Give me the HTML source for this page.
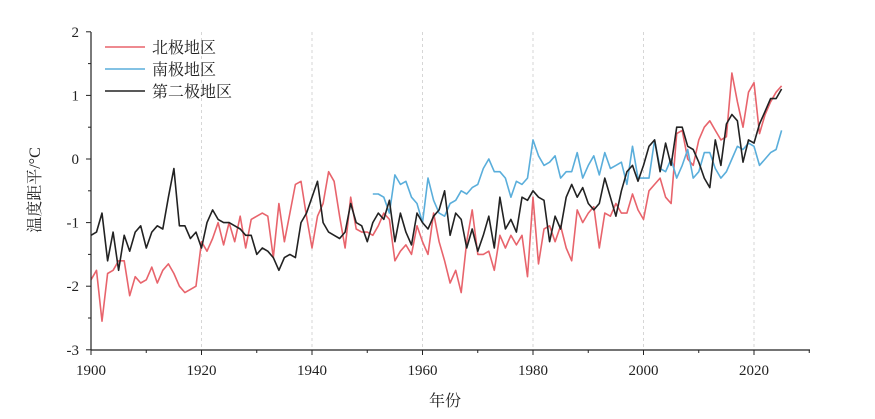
<!DOCTYPE html>
<html><head><meta charset="utf-8"><style>
body{margin:0;background:#fff}
svg text{font-family:"Liberation Serif","Noto Serif CJK SC","Noto Sans CJK SC",serif;fill:#222}
</style></head><body>
<svg id="s" width="875" height="414" xmlns="http://www.w3.org/2000/svg"></svg>
<script>
const X=y=>91+(y-1900)*5.525, Y=v=>159-v*63.6;
const red=[-1.9,-1.75,-2.55,-1.8,-1.75,-1.6,-1.6,-2.15,-1.85,-1.95,-1.9,-1.7,-1.95,-1.75,-1.65,-1.8,-2.0,-2.1,-2.05,-2.0,
-1.3,-1.45,-1.25,-1.0,-1.35,-1.0,-1.3,-0.9,-1.4,-0.95,-0.9,-0.85,-0.9,-1.55,-0.7,-1.3,-0.85,-0.4,-0.35,-0.9,
-1.4,-0.9,-0.7,-0.2,-0.35,-0.9,-1.4,-0.6,-1.1,-1.15,-1.15,-1.2,-1.05,-0.85,-0.95,-1.6,-1.45,-1.35,-1.5,-1.05,
-1.3,-1.5,-0.85,-1.3,-1.6,-1.95,-1.75,-2.1,-1.3,-0.8,-1.5,-1.5,-1.45,-1.75,-1.2,-1.4,-1.2,-1.35,-1.2,-1.85,
-0.6,-1.65,-1.1,-1.05,-1.3,-1.05,-1.4,-1.6,-0.8,-1.0,-0.85,-0.75,-1.4,-0.85,-0.9,-0.7,-0.85,-0.85,-0.55,-0.8,
-0.95,-0.5,-0.4,-0.3,-0.6,-0.7,0.4,0.45,0.0,-0.1,0.3,0.5,0.6,0.45,0.3,0.35,1.35,0.9,0.5,1.05,1.2,0.4,0.7,0.9,1.05,1.15];
const blk=[-1.2,-1.15,-0.85,-1.6,-1.15,-1.75,-1.2,-1.45,-1.15,-1.05,-1.4,-1.15,-1.05,-1.1,-0.6,-0.15,-1.05,-1.05,-1.25,-1.15,
-1.4,-1.0,-0.8,-0.95,-1.0,-1.0,-1.05,-1.1,-1.2,-1.2,-1.5,-1.4,-1.45,-1.55,-1.75,-1.55,-1.5,-1.55,-1.0,-0.85,
-0.6,-0.35,-1.0,-1.15,-1.2,-1.25,-1.15,-0.7,-1.0,-1.05,-1.3,-1.0,-0.85,-0.95,-0.65,-1.3,-0.85,-1.15,-1.35,-0.85,
-1.0,-1.1,-0.9,-0.8,-0.5,-1.2,-0.85,-0.95,-1.4,-1.1,-1.45,-1.2,-0.9,-1.4,-0.6,-1.1,-0.95,-1.15,-0.6,-0.65,
-0.5,-0.6,-0.65,-1.3,-0.9,-1.1,-0.6,-0.4,-0.6,-0.45,-0.7,-0.8,-0.7,-0.3,-0.6,-0.9,-0.5,-0.2,-0.1,-0.35,
-0.1,0.2,0.3,-0.2,0.25,-0.1,0.5,0.5,0.2,0.15,-0.05,-0.3,-0.45,0.3,-0.1,0.55,0.7,0.6,-0.05,0.3,0.25,0.55,0.75,0.95,0.95,1.1];
const blu=[-0.55,-0.55,-0.6,-0.85,-0.25,-0.4,-0.35,-0.6,-0.7,-1.0,-0.3,-0.65,-0.85,-0.9,-0.7,-0.65,-0.5,-0.55,-0.45,-0.4,
-0.15,0.0,-0.2,-0.2,-0.3,-0.6,-0.35,-0.4,-0.3,0.3,0.05,-0.1,-0.05,0.05,-0.3,-0.2,-0.2,0.1,-0.3,-0.1,0.05,-0.25,0.1,-0.15,-0.1,-0.05,-0.4,0.2,-0.3,
-0.3,-0.3,0.3,-0.15,-0.2,0.0,-0.3,-0.1,0.15,-0.3,-0.2,0.1,0.1,-0.15,-0.3,-0.2,0.0,0.2,0.15,0.25,0.2,-0.1,0.0,0.1,0.15,0.45];
let h='';
for(let y=1920;y<=2020;y+=20)h+=`<line x1="${X(y)}" y1="32" x2="${X(y)}" y2="350" stroke="#ccc" stroke-dasharray="3,3" stroke-width="0.8"/>`;
const pl=(a,s,c)=>`<polyline fill="none" stroke="${c}" stroke-width="1.6" stroke-linejoin="round" points="${a.map((v,i)=>X(s+i).toFixed(1)+','+Y(v).toFixed(1)).join(' ')}"/>`;
h+=pl(red,1900,'#e8646c')+pl(blu,1951,'#5aaedb')+pl(blk,1900,'#222');
h+=`<line x1="91" y1="32" x2="91" y2="350" stroke="#222" stroke-width="1.2"/><line x1="91" y1="350" x2="810" y2="350" stroke="#222" stroke-width="1.2"/>`;
for(let v=-3;v<=2;v++){h+=`<line x1="86" y1="${Y(v)}" x2="91" y2="${Y(v)}" stroke="#222"/><text x="79" y="${Y(v)+5}" font-size="15" text-anchor="end">${v}</text>`;}
for(let v=-2.5;v<=2;v+=1)h+=`<line x1="88" y1="${Y(v)}" x2="91" y2="${Y(v)}" stroke="#222"/>`;
for(let y=1900;y<=2030;y+=10)h+=`<line x1="${X(y)}" y1="350" x2="${X(y)}" y2="${y%20?353:355}" stroke="#222"/>`;
for(let y=1900;y<=2020;y+=20)h+=`<text x="${X(y)}" y="375" font-size="15" text-anchor="middle">${y}</text>`;
h+=`<text x="445" y="406" font-size="16" text-anchor="middle">年份</text>`;
h+=`<text transform="translate(40,190) rotate(-90)" font-size="16" text-anchor="middle">温度距平/°C</text>`;
const lg=[['北极地区','#e8646c'],['南极地区','#5aaedb'],['第二极地区','#222']];
lg.forEach((l,i)=>{const y=47+i*22;h+=`<line x1="105" y1="${y}" x2="145" y2="${y}" stroke="${l[1]}" stroke-width="1.6"/><text x="152" y="${y+6}" font-size="16">${l[0]}</text>`;});
document.getElementById('s').innerHTML=h;
</script>
</body></html>
